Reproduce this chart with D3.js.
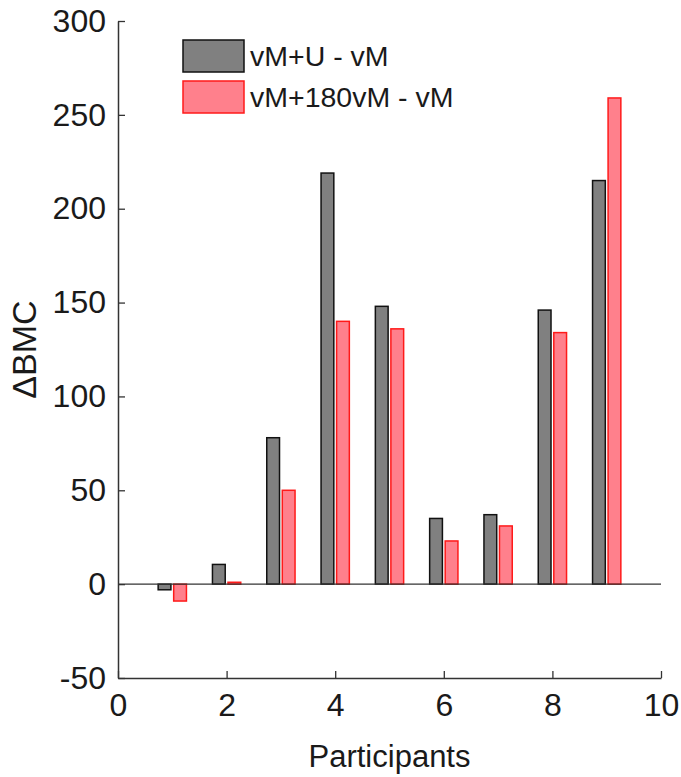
<!DOCTYPE html>
<html>
<head>
<meta charset="utf-8">
<script src="https://cdn.jsdelivr.net/npm/d3@7"></script>
<style>
  body { margin: 0; background: #fff; }
  text { font-family: "Liberation Sans", Arial, sans-serif; fill: #1a1a1a; }
</style>
</head>
<body>
<svg id="chart" width="681" height="777"></svg>
<script>
// data
var participants = [1, 2, 3, 4, 5, 6, 7, 8, 9];
var seriesNames = ["vM+U - vM", "vM+180vM - vM"];
var diffU = [-3, 10.5, 78, 219, 148, 35, 37, 146, 215];
var diff180 = [-9, 1, 50, 140, 136, 23, 31, 134, 259];
var xTicks = [0, 2, 4, 6, 8, 10];
var yTicks = [-50, 0, 50, 100, 150, 200, 250, 300];

var fills = ["#808080", "#ff808c"];
var strokes = ["#111111", "#ff1a1a"];

var svg = d3.select("#chart");
var pad = {left: 118, right: 661, top: 21, bottom: 678};

var x = d3.scaleLinear().domain([0, 10]).range([pad.left, pad.right]);
var y = d3.scaleLinear().domain([-50, 300]).range([pad.bottom, pad.top]);

var barW = 0.235, off = 0.143;
var series = [diffU, diff180];

series.forEach(function(vals, s) {
    svg.append("g").selectAll("rect")
        .data(participants)
        .enter()
        .append("rect")
        .attr("x", function(d) { return x(d + (s == 0 ? -off : off) - barW / 2); })
        .attr("width", function() { return x(barW) - x(0); })
        .attr("y", function(d, i) { return y(Math.max(0, vals[i])); })
        .attr("height", function(d, i) { return Math.abs(y(vals[i]) - y(0)); })
        .style("fill", fills[s])
        .style("stroke", strokes[s])
        .style("stroke-width", 1.5);
});

// baseline at zero
svg.append("line")
    .attr("x1", x(0)).attr("x2", x(10))
    .attr("y1", y(0)).attr("y2", y(0))
    .style("stroke", "#333").style("stroke-width", 1.3);

// axes with inward ticks, plain hyphen for negatives
var fmt = function(d) { return String(d); };
var xAxis = d3.axisBottom(x).tickValues(xTicks).tickFormat(fmt).tickSize(-7).tickPadding(15).tickSizeOuter(0);
var yAxis = d3.axisLeft(y).tickValues(yTicks).tickFormat(fmt).tickSize(-7).tickPadding(12).tickSizeOuter(0);

var gX = svg.append("g").attr("transform", "translate(0," + pad.bottom + ")").call(xAxis);
var gY = svg.append("g").attr("transform", "translate(" + pad.left + ",0)").call(yAxis);

[gX, gY].forEach(function(g) {
    g.select(".domain").style("stroke", "#333").style("stroke-width", 1.5);
    g.selectAll(".tick line").style("stroke", "#333").style("stroke-width", 1.3);
    g.selectAll(".tick text")
        .style("font-family", "'Liberation Sans', Arial, sans-serif")
        .style("font-size", "32px")
        .style("fill", "#1a1a1a");
});
gX.selectAll(".tick text").attr("dy", "0.71em");

// axis labels
svg.append("text")
    .attr("x", (pad.left + pad.right) / 2)
    .attr("y", 767)
    .attr("text-anchor", "middle")
    .style("font-size", "31px")
    .text("Participants");

svg.append("text")
    .attr("transform", "translate(36," + y(125) + ") rotate(-90)")
    .attr("text-anchor", "middle")
    .style("font-size", "34px")
    .text("\u0394BMC");

// legend
var legend = svg.append("g").attr("transform", "translate(183,40)");
seriesNames.forEach(function(name, i) {
    var row = legend.append("g").attr("transform", "translate(0," + (i * 41) + ")");
    row.append("rect")
        .attr("width", 61).attr("height", 32)
        .style("fill", fills[i])
        .style("stroke", strokes[i])
        .style("stroke-width", 1.5);
    row.append("text")
        .attr("x", 67).attr("y", 16)
        .attr("dy", "0.36em")
        .style("font-size", "28.5px")
        .text(name);
});
</script>
</body>
</html>
